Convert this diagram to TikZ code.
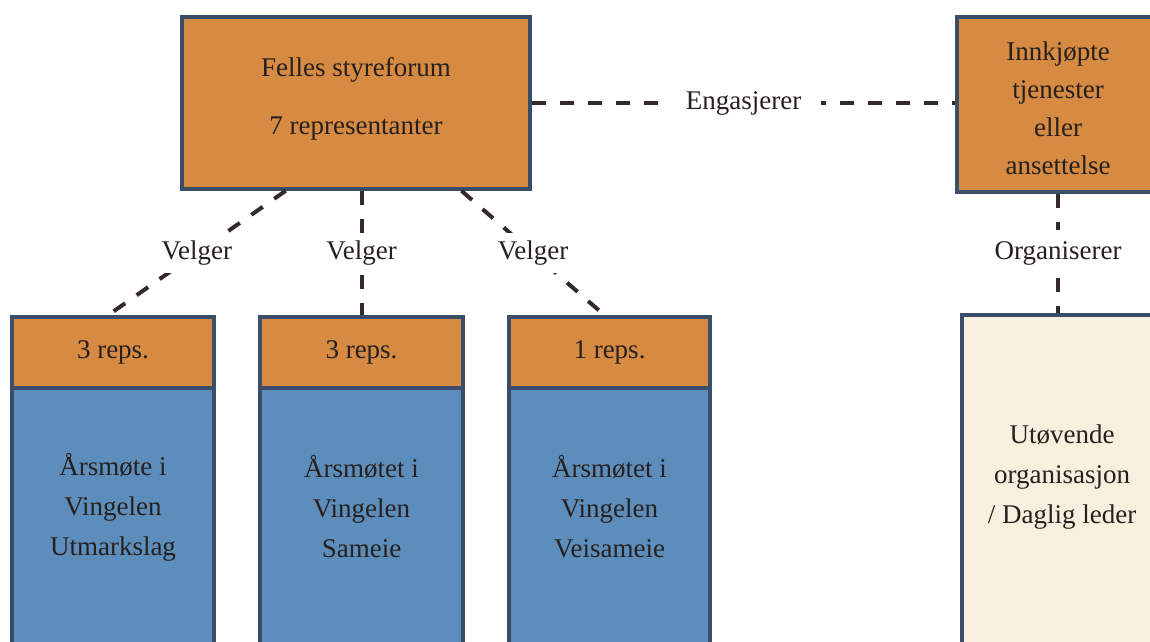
\documentclass[tikz,border=0pt]{standalone}
\usepackage{fontspec}
\setmainfont{Liberation Serif}
\usetikzlibrary{calc}
\definecolor{boxorange}{RGB}{214,138,66}
\definecolor{boxblue}{RGB}{93,141,187}
\definecolor{boxcream}{RGB}{248,239,222}
\definecolor{boxborder}{RGB}{58,78,106}
\definecolor{textdark}{RGB}{38,32,30}
\definecolor{linedark}{RGB}{52,42,42}
\begin{document}
\begin{tikzpicture}[x=1pt,y=-1pt,
  box/.style={draw=boxborder, line width=3.5pt, rectangle, inner sep=0pt,
    align=center, text=textdark, font=\fontsize{27}{40}\selectfont},
  txt/.style={inner sep=0pt, align=center, text=textdark, font=\fontsize{27}{40}\selectfont},
  conn/.style={draw=linedark, line width=4pt, dash pattern=on 14pt off 14pt},
  lbl/.style={fill=white, text=textdark, font=\fontsize{27}{32}\selectfont, inner xsep=20pt, inner ysep=8pt}]
\useasboundingbox (0,0) rectangle (1150,641);
\clip (0,0) rectangle (1150,641);

% top board box
\node[box, fill=boxorange, minimum width=348, minimum height=172] (top) at (356,103) {};
\node[txt] (toptxt) at (356,99) {Felles styreforum\\[18pt]7 representanter};

% purchased services box
\node[box, fill=boxorange, minimum width=202, minimum height=175] (innk) at (1058,104.5) {};
\node[txt, font=\fontsize{27}{38}\selectfont] (innktxt) at (1058,108.5)
  {Innkjøpte\\tjenester\\eller\\ansettelse};

% executive organisation box
\node[box, fill=boxcream, minimum width=200, minimum height=330] (ud) at (1062,480) {};
\node[txt] (udtxt) at (1062,477) {Utøvende\\organisasjon\\/ Daglig leder};

% bottom bodies
\node[box, fill=boxblue, minimum width=202, minimum height=262] (b1) at (113,519) {};
\node[box, fill=boxblue, minimum width=203, minimum height=262] (b2) at (361.5,519) {};
\node[box, fill=boxblue, minimum width=201, minimum height=262] (b3) at (609.5,519) {};
% bottom headers
\node[box, fill=boxorange, minimum width=202, minimum height=71] (h1) at (113,352.5) {3 reps.};
\node[box, fill=boxorange, minimum width=203, minimum height=71] (h2) at (361.5,352.5) {3 reps.};
\node[box, fill=boxorange, minimum width=201, minimum height=71] (h3) at (609.5,352.5) {1 reps.};
% bottom texts
\node[txt] (t1) at (113,507) {Årsmøte i\\Vingelen\\Utmarkslag};
\node[txt] (t2) at (361.5,507) {Årsmøtet i\\Vingelen\\Sameie};
\node[txt] (t3) at (609.5,507) {Årsmøtet i\\Vingelen\\Veisameie};

% connectors
\draw[conn] ($(top.south west)!0.3!(top.south east)$) -- node[lbl] (v1) {Velger} ($(h1.north)+(-5,0)$);
\draw[conn] (h2.north |- top.south) -- node[lbl] (v2) {Velger} (h2.north);
\draw[conn] ($(top.south west)!0.8!(top.south east)$) -- node[lbl] (v3) {Velger} ($(h3.north)+(-5,0)$);
\draw[conn] (top.east) -- node[lbl] (eng) {Engasjerer} (top.east -| innk.west);
\draw[conn] (innk.south) -- node[lbl, inner ysep=12pt] (org) {Organiserer} (innk.south |- ud.north);
\end{tikzpicture}
\end{document}
